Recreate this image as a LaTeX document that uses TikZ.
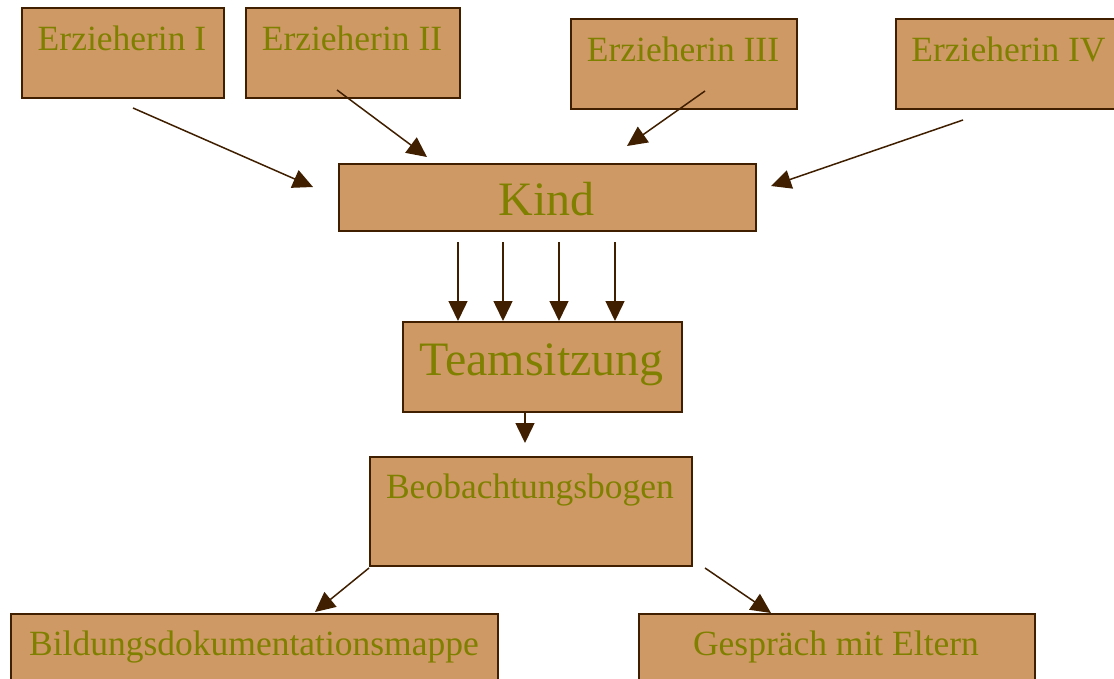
\documentclass[tikz,border=0pt]{standalone}
\usepackage{fontspec}
\setmainfont{Liberation Serif}
\usetikzlibrary{arrows.meta}
\definecolor{boxfill}{HTML}{CF9966}
\definecolor{boxline}{HTML}{3F1F00}
\definecolor{txtcol}{HTML}{808000}
\tikzset{
  box/.style={draw=boxline, fill=boxfill, line width=1.6pt, anchor=north west, inner sep=0pt},
  small/.style={text=txtcol, anchor=base, inner sep=0pt, font=\fontsize{35.5}{40}\selectfont},
  big/.style={text=txtcol, anchor=base, inner sep=0pt, font=\fontsize{48}{53}\selectfont},
  arr/.style={draw=boxline, line width=1.5pt, -{Triangle[length=20pt,width=19pt]}}
}
\begin{document}
\begin{tikzpicture}[x=1pt,y=-1pt]
\useasboundingbox (0,0) rectangle (1114,678);
% boxes
\node[box, minimum width=202pt, minimum height=90pt] (e1) at (21,7) {};
\node[box, minimum width=214pt, minimum height=90pt] (e2) at (245,7) {};
\node[box, minimum width=226pt, minimum height=90pt] (e3) at (570,18) {};
\node[box, minimum width=227pt, minimum height=90pt] (e4) at (895,18) {};
\node[box, minimum width=417pt, minimum height=67pt] (kind) at (338,163) {};
\node[box, minimum width=279pt, minimum height=90pt] (team) at (402,321) {};
\node[box, minimum width=322pt, minimum height=109pt] (beob) at (369,456) {};
\node[box, minimum width=487pt, minimum height=90pt] (bild) at (10,613) {};
\node[box, minimum width=396pt, minimum height=90pt] (gesp) at (638,613) {};
% texts
\node[small] (e1t) at (122,50) {Erzieherin I};
\node[small] (e2t) at (352,50) {Erzieherin II};
\node[small] (e3t) at (683,61) {Erzieherin III};
\node[small] (e4t) at (1008.5,61) {Erzieherin IV};
\node[big] (kindt) at (546.5,215) {Kind};
\node[big] (teamt) at (541.5,375) {Teamsitzung};
\node[small] (beobt) at (530,498) {Beobachtungsbogen};
\node[small] (bildt) at (254,655) {Bildungsdokumentationsmappe};
\node[small] (gespt) at (836,655) {Gespräch mit Eltern};
% connector ends
\coordinate (a1s) at (133,108); \coordinate (a1e) at (313,187);
\coordinate (a2s) at (337,90);  \coordinate (a2e) at (427,157);
\coordinate (a3s) at (705,91);  \coordinate (a3e) at (627,146);
\coordinate (a4s) at (963,120); \coordinate (a4e) at (771,186);
\coordinate (k1s) at (458,242); \coordinate (k1e) at (458,321);
\coordinate (k2s) at (503,242); \coordinate (k2e) at (503,321);
\coordinate (k3s) at (559,242); \coordinate (k3e) at (559,321);
\coordinate (k4s) at (615,242); \coordinate (k4e) at (615,321);
\coordinate (ts) at (525,411);  \coordinate (te) at (525,443);
\coordinate (b1s) at (369,568); \coordinate (b1e) at (315,612);
\coordinate (b2s) at (705,568); \coordinate (b2e) at (771,613);
% connectors
\draw[arr] (a1s) -- (a1e);
\draw[arr] (a2s) -- (a2e);
\draw[arr] (a3s) -- (a3e);
\draw[arr] (a4s) -- (a4e);
\draw[arr] (k1s) -- (k1e);
\draw[arr] (k2s) -- (k2e);
\draw[arr] (k3s) -- (k3e);
\draw[arr] (k4s) -- (k4e);
\draw[arr] (ts) -- (te);
\draw[arr] (b1s) -- (b1e);
\draw[arr] (b2s) -- (b2e);
\end{tikzpicture}
\end{document}
